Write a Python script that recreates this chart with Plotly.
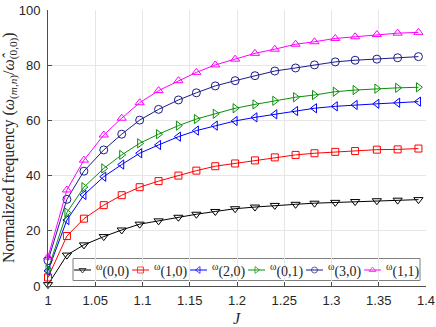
import plotly.graph_objects as go

# 横轴 J 的取值
J = [1.000, 1.020, 1.038, 1.059, 1.078, 1.097, 1.117, 1.138, 1.157, 1.177,
     1.198, 1.219, 1.240, 1.262, 1.282, 1.304, 1.325, 1.348, 1.370, 1.392]

# 各模态的归一化频率
w00 = [0.5, 11.2, 14.9, 17.9, 20.3, 22.4, 23.6, 24.9, 26.0, 27.0,
       28.0, 28.6, 29.2, 29.6, 30.0, 30.3, 30.6, 30.9, 31.1, 31.3]
w10 = [3.1, 18.1, 24.4, 29.3, 32.9, 35.8, 38.0, 40.0, 41.8, 43.4,
       44.4, 45.5, 46.6, 47.5, 48.1, 48.6, 48.9, 49.4, 49.5, 49.8]
w20 = [5.5, 23.9, 33.0, 39.6, 44.0, 48.1, 51.1, 54.1, 56.3, 58.1,
       59.8, 61.1, 62.2, 63.4, 64.4, 65.1, 65.6, 66.0, 66.4, 66.8]
w01 = [6.0, 26.6, 35.8, 42.6, 47.5, 51.7, 55.0, 58.1, 60.5, 62.4,
       64.4, 65.8, 67.1, 68.4, 69.2, 70.4, 71.0, 71.5, 71.8, 72.0]
w30 = [9.2, 31.4, 41.6, 49.3, 55.0, 60.1, 64.0, 67.4, 70.0, 72.5,
       74.4, 76.2, 77.9, 79.0, 80.1, 81.2, 81.8, 82.2, 82.7, 83.1]
w11 = [10.5, 34.8, 45.6, 54.7, 60.8, 66.4, 70.8, 74.4, 77.4, 80.1,
       82.2, 84.3, 85.8, 87.6, 88.5, 89.7, 90.3, 91.1, 91.6, 91.9]

labels = ["(0,0)", "(1,0)", "(2,0)", "(0,1)", "(3,0)", "(1,1)"]
series = [w00, w10, w20, w01, w30, w11]
colors = ["#000000", "#ff0000", "#0000ff", "#0a8f0a", "#1c1c8c", "#ff00ff"]
symbols = ["triangle-down-open", "square-open", "triangle-left-open",
           "triangle-right-open", "circle-open", "triangle-up-open"]
sizes = [8, 7, 8, 8, 8, 8]

# 画布与绘图区尺寸（像素）
W, H = 436, 327
ML, MR, MT, MB = 48, 10, 10, 41
PW, PH = W - ML - MR, H - MT - MB


def px(x):
    return (x - ML) / PW


def py(y):
    return (H - MB - y) / PH


fig = go.Figure()

for ys, name, c, s, sz in zip(series, labels, colors, symbols, sizes):
    fig.add_trace(go.Scatter(
        x=J, y=ys, name=name, mode="lines+markers",
        line=dict(color=c, width=1),
        marker=dict(symbol=s, size=sz, color=c, line=dict(width=1, color=c)),
        cliponaxis=False, showlegend=False,
    ))

# 图例：手动绘制（MATLAB 风格的短线 + 标记）
leg_y = py(270)
for i, (name, c, s) in enumerate(zip(labels, colors, symbols)):
    cx = 82.5 + 58 * i
    fig.add_trace(go.Scatter(
        x=[px(cx - 8.5), px(cx), px(cx + 8.5)], y=[leg_y] * 3,
        xaxis="x2", yaxis="y2", mode="lines+markers",
        line=dict(color=c, width=1),
        marker=dict(symbol=s, size=[0, 6, 0], color=c,
                    line=dict(width=1, color=c)),
        cliponaxis=False, showlegend=False, hoverinfo="skip",
    ))
    fig.add_annotation(
        text="<sup>ω</sup>" + name, xref="paper", yref="paper",
        x=px(cx + 11.5), y=leg_y, xanchor="left", yanchor="middle",
        showarrow=False,
        font=dict(family="Liberation Serif", size=14, color="#262626"),
    )

fig.add_shape(
    type="rect", xref="paper", yref="paper",
    x0=px(73), x1=px(420), y0=py(280.5), y1=py(258.5),
    line=dict(color="#7f7f7f", width=1), fillcolor="white", layer="between",
)

# 坐标轴标题
fig.add_annotation(
    text="Normalized frequency (<i>ω</i><sub>(<i>m</i>,<i>n</i>)</sub>/<i>ω̂</i><sub>(0,0)</sub>)",
    xref="paper", yref="paper", x=px(10), y=0.5, textangle=-90,
    xanchor="center", yanchor="middle", showarrow=False,
    font=dict(family="Liberation Serif", size=16, color="#262626"),
)
fig.add_annotation(
    text="<i>J</i>", xref="paper", yref="paper", x=0.5, y=py(318),
    xanchor="center", yanchor="middle", showarrow=False,
    font=dict(family="Liberation Serif", size=16, color="#262626"),
)

axis_common = dict(
    showgrid=True, gridcolor="#e6e6e6", gridwidth=1,
    showline=True, linecolor="#4d4d4d", linewidth=1,
    ticks="inside", ticklen=4, tickcolor="#4d4d4d",
    tickfont=dict(family="Liberation Sans", size=13, color="#262626"),
    zeroline=False, automargin=False,
)

fig.update_layout(
    width=W, height=H,
    margin=dict(l=ML, r=MR, t=MT, b=MB, autoexpand=False),
    plot_bgcolor="white", paper_bgcolor="white",
    xaxis=dict(range=[1, 1.4], dtick=0.05, tick0=1, ticklabelstandoff=2,
               **axis_common),
    yaxis=dict(range=[0, 100], dtick=20, tick0=0, ticklabelstandoff=4,
               **axis_common),
    xaxis2=dict(overlaying="x", range=[0, 1], visible=False, anchor="y2"),
    yaxis2=dict(overlaying="y", range=[0, 1], visible=False, anchor="x2"),
)

# 去掉页面默认边距，让图表贴齐窗口左上角；隐藏工具栏
fig.write_html("out.html", config={"displayModeBar": False},
               post_script="document.body.style.margin='0';")
